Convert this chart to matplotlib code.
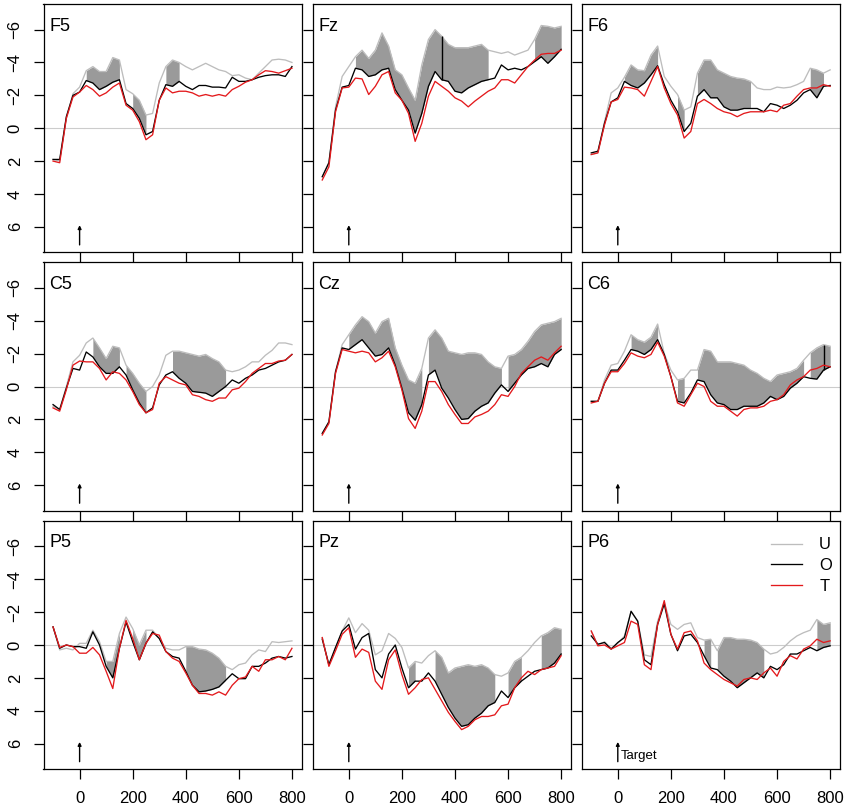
import numpy as np
import matplotlib
matplotlib.use('Agg')
import matplotlib.pyplot as plt

plt.rcParams['font.family'] = ['Liberation Sans', 'DejaVu Sans']

# time axis (ms), one value every 25 ms
time_ms = np.arange(-100, 801, 25)

panel_names = ['F5', 'Fz', 'F6', 'C5', 'Cz', 'C6', 'P5', 'Pz', 'P6']

# amplitudes (uV), U / O / T per electrode
f5_u = [1.9, 2.0, -0.6, -2.1, -2.5, -3.5, -3.75, -3.45, -3.45, -4.3, -4.15, -2.35, -2.1, -1.7, -0.8, -0.9, -2.75, -3.75, -4.15,
        -4.0, -3.75, -3.55, -3.75, -3.95, -3.75, -3.55, -3.45, -3.2, -3.25, -3.05, -2.95, -3.35, -3.75, -4.15, -4.2, -4.15, -4.0]
f5_o = [1.9, 1.9, -0.7, -2.0, -2.2, -2.9, -2.75, -2.35, -2.55, -2.8, -2.95, -1.5, -1.2, -0.6, 0.4, 0.2, -1.7, -2.65, -2.55,
        -2.85, -2.55, -2.35, -2.6, -2.6, -2.5, -2.5, -2.45, -3.1, -2.85, -2.85, -2.95, -3.1, -3.2, -3.25, -3.25, -3.15, -3.75]
f5_t = [2.0, 2.1, -0.6, -1.9, -2.2, -2.6, -2.35, -1.95, -2.15, -2.5, -2.75, -1.4, -1.1, -0.4, 0.7, 0.4, -1.7, -2.45, -2.15,
        -2.25, -2.25, -2.15, -1.95, -2.05, -1.95, -2.05, -1.95, -2.35, -2.55, -2.8, -2.95, -3.25, -3.5, -3.45, -3.35, -3.5, -3.65]

fz_u = [2.95, 2.1, -1.3, -3.15, -3.75, -4.35, -4.75, -4.25, -4.75, -5.8, -5.0, -3.55, -3.25, -2.45, -1.7, -3.85, -5.4, -6.0, -5.6,
        -5.1, -4.9, -4.9, -4.9, -5.0, -5.1, -4.75, -4.65, -4.55, -4.65, -4.45, -4.6, -4.75, -5.4, -6.25, -6.2, -6.1, -6.2]
fz_o = [2.95, 2.1, -1.1, -2.5, -2.6, -3.65, -3.55, -3.15, -3.25, -3.55, -3.65, -2.35, -1.7, -1.1, 0.3, -0.9, -2.55, -3.45, -2.95,
        -2.85, -2.25, -2.15, -2.45, -2.65, -2.85, -2.95, -3.05, -3.85, -3.55, -3.65, -3.55, -3.75, -4.05, -4.35, -3.95, -4.35, -4.8]
fz_t = [3.15, 2.35, -1.0, -2.45, -2.5, -3.05, -3.0, -2.05, -2.55, -3.25, -3.45, -2.15, -1.7, -0.9, 0.8, -0.3, -1.95, -2.85, -2.55,
        -2.25, -1.85, -1.65, -1.3, -1.65, -1.95, -2.25, -2.45, -2.95, -2.95, -2.75, -3.25, -3.75, -4.15, -4.5, -4.55, -4.55, -4.75]

f6_u = [1.6, 1.5, -0.4, -2.15, -2.45, -3.1, -3.85, -3.55, -3.5, -4.45, -5.0, -3.15, -2.55, -2.05, -1.1, -1.3, -3.35, -4.15, -4.15,
        -3.55, -3.35, -3.15, -3.05, -3.0, -2.85, -2.45, -2.35, -2.35, -2.5, -2.45, -2.5, -2.65, -2.85, -3.65, -3.55, -3.35, -3.55]
f6_o = [1.5, 1.4, -0.3, -1.6, -1.85, -2.85, -2.6, -2.45, -2.75, -3.25, -3.8, -2.65, -1.7, -1.0, 0.2, -0.3, -1.95, -2.35, -1.85,
        -1.85, -1.3, -1.1, -1.1, -1.2, -1.2, -1.2, -1.0, -1.5, -1.4, -1.2, -1.4, -1.7, -2.15, -2.35, -1.85, -2.55, -2.6]
f6_t = [1.6, 1.5, -0.2, -1.6, -1.75, -2.5, -2.45, -2.35, -1.95, -2.85, -3.75, -2.45, -1.5, -0.8, 0.6, 0.2, -1.5, -1.75, -1.5,
        -1.2, -1.0, -0.9, -0.7, -0.9, -1.0, -1.0, -1.0, -1.1, -1.0, -1.4, -1.5, -1.95, -2.35, -2.45, -2.45, -2.65, -2.55]

c5_u = [1.2, 1.4, 0.0, -1.5, -1.9, -2.65, -2.95, -2.35, -1.7, -2.45, -2.35, -1.3, -0.8, -0.2, 0.3, 0.0, -0.7, -1.9, -2.15,
        -2.15, -2.05, -1.95, -1.85, -1.95, -1.7, -1.5, -1.0, -0.9, -1.0, -1.2, -1.5, -1.5, -1.9, -2.2, -2.65, -2.65, -2.55]
c5_o = [1.1, 1.4, 0.1, -1.1, -1.0, -2.1, -1.8, -1.2, -0.8, -0.8, -1.2, -0.7, 0.2, 1.0, 1.6, 1.3, -0.1, -0.7, -0.9,
        -0.5, -0.2, 0.3, 0.35, 0.4, 0.6, 0.3, 0.0, -0.4, -0.2, -0.5, -0.7, -1.0, -1.1, -1.3, -1.5, -1.6, -1.95]
c5_t = [1.3, 1.5, 0.2, -1.3, -1.55, -1.5, -1.5, -1.1, -0.4, -0.9, -0.8, -0.4, 0.3, 1.1, 1.6, 1.4, -0.2, -0.6, -0.4,
        -0.2, -0.1, 0.5, 0.6, 0.8, 0.9, 0.7, 0.7, 0.2, 0.1, -0.3, -0.8, -1.1, -1.4, -1.4, -1.55, -1.6, -1.95]

cz_u = [2.85, 2.15, -0.9, -2.55, -3.15, -3.75, -4.25, -3.95, -3.25, -3.95, -4.15, -2.35, -1.3, -0.4, -0.2, -1.1, -2.95, -3.45, -2.95,
        -2.15, -2.05, -1.95, -2.05, -2.05, -1.95, -1.5, -1.2, -1.1, -1.85, -1.95, -2.25, -2.75, -3.35, -3.75, -3.85, -3.95, -4.15]
cz_o = [2.85, 2.15, -0.9, -2.35, -2.25, -2.55, -2.85, -2.35, -1.85, -1.95, -2.35, -1.3, 0.1, 1.6, 2.05, 1.1, -0.7, -1.0, 0.1,
        0.7, 1.4, 2.0, 1.95, 1.5, 1.2, 1.0, 0.4, -0.1, 0.3, -0.2, -0.7, -1.1, -1.2, -1.4, -1.2, -1.95, -2.25]
cz_t = [2.95, 2.25, -0.8, -2.25, -2.15, -2.05, -2.15, -2.05, -1.5, -1.75, -2.15, -1.2, 0.2, 1.95, 2.55, 1.5, -0.3, -0.3, 0.3,
        1.1, 1.7, 2.25, 2.25, 1.85, 1.7, 1.5, 1.1, 0.5, 0.6, 0.0, -0.8, -1.2, -1.6, -1.8, -1.6, -2.05, -2.45]

c6_u = [0.9, 0.9, -0.4, -1.3, -1.4, -2.15, -3.15, -2.85, -2.7, -3.0, -3.8, -2.0, -1.0, -0.4, -0.5, -1.0, -1.0, -2.25, -2.15,
        -1.5, -1.5, -1.5, -1.4, -1.3, -1.0, -0.8, -0.5, -0.3, -0.7, -0.8, -0.9, -1.1, -1.6, -2.05, -2.35, -2.55, -2.45]
c6_o = [0.9, 0.9, -0.2, -1.0, -1.0, -1.6, -2.25, -2.15, -1.95, -2.25, -2.85, -1.95, -0.6, 0.9, 1.0, 0.4, -0.4, -0.3, 0.5,
        1.0, 1.1, 1.4, 1.4, 1.2, 1.2, 1.2, 1.0, 0.6, 0.8, 0.6, 0.1, -0.2, -0.6, -0.5, -0.45, -1.0, -1.2]
c6_t = [1.0, 0.9, -0.2, -0.9, -0.9, -1.4, -2.05, -1.85, -1.75, -1.95, -2.7, -1.85, -0.6, 1.0, 1.2, 0.5, -0.2, 0.0, 0.9,
        1.2, 1.2, 1.5, 1.8, 1.4, 1.3, 1.3, 1.2, 0.9, 0.8, 0.5, -0.1, -0.4, -0.6, -1.0, -1.1, -1.3, -1.2]

p5_u = [-1.1, 0.3, 0.2, 0.3, -0.1, -0.1, -0.9, -0.2, 1.0, 1.0, -0.7, -1.7, -1.0, 0.0, -0.9, -0.9, -0.4, 0.2, 0.3,
        0.3, 0.1, 0.1, 0.25, 0.3, 0.5, 0.8, 1.3, 1.5, 1.2, 1.1, 0.6, 0.3, 0.4, -0.2, -0.15, -0.2, -0.25]
p5_o = [-1.1, 0.2, 0.0, 0.1, 0.1, 0.2, -0.8, 0.0, 1.3, 2.0, 0.2, -1.4, -0.2, 0.9, -0.1, -0.8, -0.4, 0.4, 0.7,
        0.8, 1.6, 2.45, 2.85, 2.8, 2.7, 2.55, 2.15, 1.75, 2.05, 2.05, 1.3, 1.3, 1.1, 0.8, 0.7, 0.8, 0.7]
p5_t = [-1.1, 0.15, 0.0, 0.1, 0.5, 0.5, 0.15, 0.6, 1.6, 2.65, 0.2, -1.5, -0.4, 0.9, -0.1, -0.7, -0.6, 0.4, 0.8,
        1.0, 1.7, 2.45, 2.95, 2.95, 3.05, 2.85, 3.05, 2.45, 2.05, 1.95, 1.3, 1.6, 0.9, 0.9, 0.7, 0.9, 0.2]

pz_u = [-0.45, 1.2, 0.15, -0.85, -1.65, -0.75, -1.3, -0.9, 0.6, 0.35, -0.7, -0.4, 0.15, 1.4, 1.0, 1.1, 0.65, 0.35, 0.75,
        1.7, 1.4, 1.3, 1.2, 1.3, 1.2, 1.4, 1.8, 1.9, 1.7, 1.0, 0.75, 0.35, -0.15, -0.55, -0.75, -1.05, -0.95]
pz_o = [-0.35, 1.2, 0.15, -0.85, -1.25, 0.25, -0.45, -0.7, 1.5, 2.0, 0.55, 0.0, 1.4, 2.6, 2.2, 2.2, 1.7, 2.2, 3.0,
        3.8, 4.45, 4.95, 4.85, 4.45, 4.15, 3.7, 3.5, 2.8, 3.2, 2.6, 2.2, 1.9, 1.6, 1.5, 1.4, 1.1, 0.55]
pz_t = [-0.45, 1.3, 0.35, -0.65, -1.05, 0.75, 0.25, 0.45, 2.2, 2.7, 0.9, 0.3, 1.8, 3.0, 2.6, 2.1, 2.0, 2.7, 3.4,
        4.1, 4.65, 5.15, 4.95, 4.55, 4.35, 4.35, 4.25, 3.7, 3.6, 2.6, 2.0, 1.6, 1.8, 1.5, 1.4, 1.3, 0.65]

p6_u = [-0.85, 0.0, -0.2, 0.2, -0.1, -0.55, -2.05, -1.45, 0.6, 0.7, -1.45, -2.6, -1.25, -0.95, -1.25, -1.35, -0.45, -0.3, -0.35,
        0.35, -0.45, -0.45, -0.35, -0.35, -0.3, -0.15, 0.25, 0.55, 0.45, 0.15, -0.25, -0.55, -0.75, -0.9, -1.55, -1.25, -1.35]
p6_o = [-0.55, -0.05, -0.15, 0.25, -0.15, -0.45, -2.05, -1.45, 0.9, 1.2, -1.25, -2.5, -0.65, 0.35, -0.55, -0.65, -0.15, 0.65, 1.4,
        1.5, 1.9, 2.2, 2.6, 2.3, 2.0, 1.7, 2.0, 1.3, 1.5, 1.2, 0.55, 0.55, 0.35, 0.15, 0.35, 0.15, 0.05]
p6_t = [-0.85, 0.05, 0.0, 0.25, 0.05, -0.15, -1.45, -1.25, 1.2, 1.5, -1.25, -2.7, -0.65, 0.25, -0.75, -0.85, -0.25, 1.1, 1.5,
        1.8, 2.1, 2.3, 2.5, 2.1, 2.0, 2.1, 1.7, 1.4, 1.9, 1.0, 0.65, 0.85, 0.25, 0.05, -0.35, -0.15, -0.25]

# windows (ms) where U vs O differs -> shaded
sig_windows = {
    'F5': [(25, 150), (200, 250), (325, 375)],
    'Fz': [(25, 525), (700, 800)],
    'F6': [(25, 150), (225, 250), (300, 500), (725, 775)],
    'C5': [(50, 150), (175, 250), (350, 550)],
    'Cz': [(0, 275), (300, 575), (600, 800)],
    'C6': [(50, 150), (225, 250), (300, 700), (725, 800)],
    'P5': [(100, 150), (200, 250), (400, 550)],
    'Pz': [(225, 250), (325, 550), (600, 650), (725, 800)],
    'P6': [(325, 350), (375, 550), (750, 800)],
}
# black separator lines seen in two panels
sep_times = {'Fz': 350, 'C6': 775}

erp = {
    'F5': (f5_u, f5_o, f5_t), 'Fz': (fz_u, fz_o, fz_t), 'F6': (f6_u, f6_o, f6_t),
    'C5': (c5_u, c5_o, c5_t), 'Cz': (cz_u, cz_o, cz_t), 'C6': (c6_u, c6_o, c6_t),
    'P5': (p5_u, p5_o, p5_t), 'Pz': (pz_u, pz_o, pz_t), 'P6': (p6_u, p6_o, p6_t),
}

col_u = '#bdbdbd'
col_o = 'black'
col_t = '#e3191c'
col_fill = '#9a9a9a'

fig = plt.figure(figsize=(8.5, 8.11), dpi=100)

lefts = [43.5 / 850, 312.7 / 850, 581.7 / 850]
bottoms = [0.6887, 0.3702, 0.0515]
w = 258 / 850
h = 248.5 / 811

for k, name in enumerate(panel_names):
    r, c = divmod(k, 3)
    ax = fig.add_axes([lefts[c], bottoms[r], w, h])
    u, o, tt = [np.array(s) for s in erp[name]]

    for (a, b) in sig_windows[name]:
        m = (time_ms >= a) & (time_ms <= b)
        ax.fill_between(time_ms[m], u[m], o[m], color=col_fill, lw=0, zorder=1)

    ax.axhline(0, color='#cccccc', lw=0.8, zorder=0)
    ax.plot(time_ms, u, color=col_u, lw=0.95, label='U', zorder=2)
    ax.plot(time_ms, o, color=col_o, lw=0.95, label='O', zorder=3)
    ax.plot(time_ms, tt, color=col_t, lw=0.95, label='T', zorder=4)

    if name in sep_times:
        i = int(np.where(time_ms == sep_times[name])[0][0])
        ax.vlines(time_ms[i], u[i], o[i], color='black', lw=1.0, zorder=3)

    # stimulus onset arrow
    ax.annotate('', xy=(0, 5.9), xytext=(0, 7.1),
                arrowprops=dict(arrowstyle='-|>', color='black', lw=1.0,
                                mutation_scale=5, shrinkA=0, shrinkB=0))

    ax.set_xlim(-136, 836)
    ax.set_ylim(7.56, -7.56)
    ax.set_xticks([0, 200, 400, 600, 800])
    ax.set_yticks([-6, -4, -2, 0, 2, 4, 6])
    ax.tick_params(direction='out', length=7, width=0.9, labelsize=12)
    ax.tick_params(axis='x', pad=9)
    ax.tick_params(axis='y', pad=8)
    for sp in ax.spines.values():
        sp.set_linewidth(0.9)

    if r < 2:
        ax.set_xticklabels([])
    if c > 0:
        ax.set_yticklabels([])
    else:
        ax.set_yticklabels(['\u22126', '\u22124', '\u22122', '0', '2', '4', '6'],
                           rotation=90, va='center')

    ax.text(0.022, 0.945, name, transform=ax.transAxes, fontsize=13,
            ha='left', va='top')

    if name == 'P6':
        ax.text(12, 6.75, 'Target', fontsize=9.5, ha='left', va='center')
        ax.legend(loc='upper right', bbox_to_anchor=(0.996, 0.96),
                  frameon=False, fontsize=12, handlelength=1.9,
                  handletextpad=1.0, labelspacing=0.35, borderaxespad=0)

fig.savefig('out.png', dpi=100)
